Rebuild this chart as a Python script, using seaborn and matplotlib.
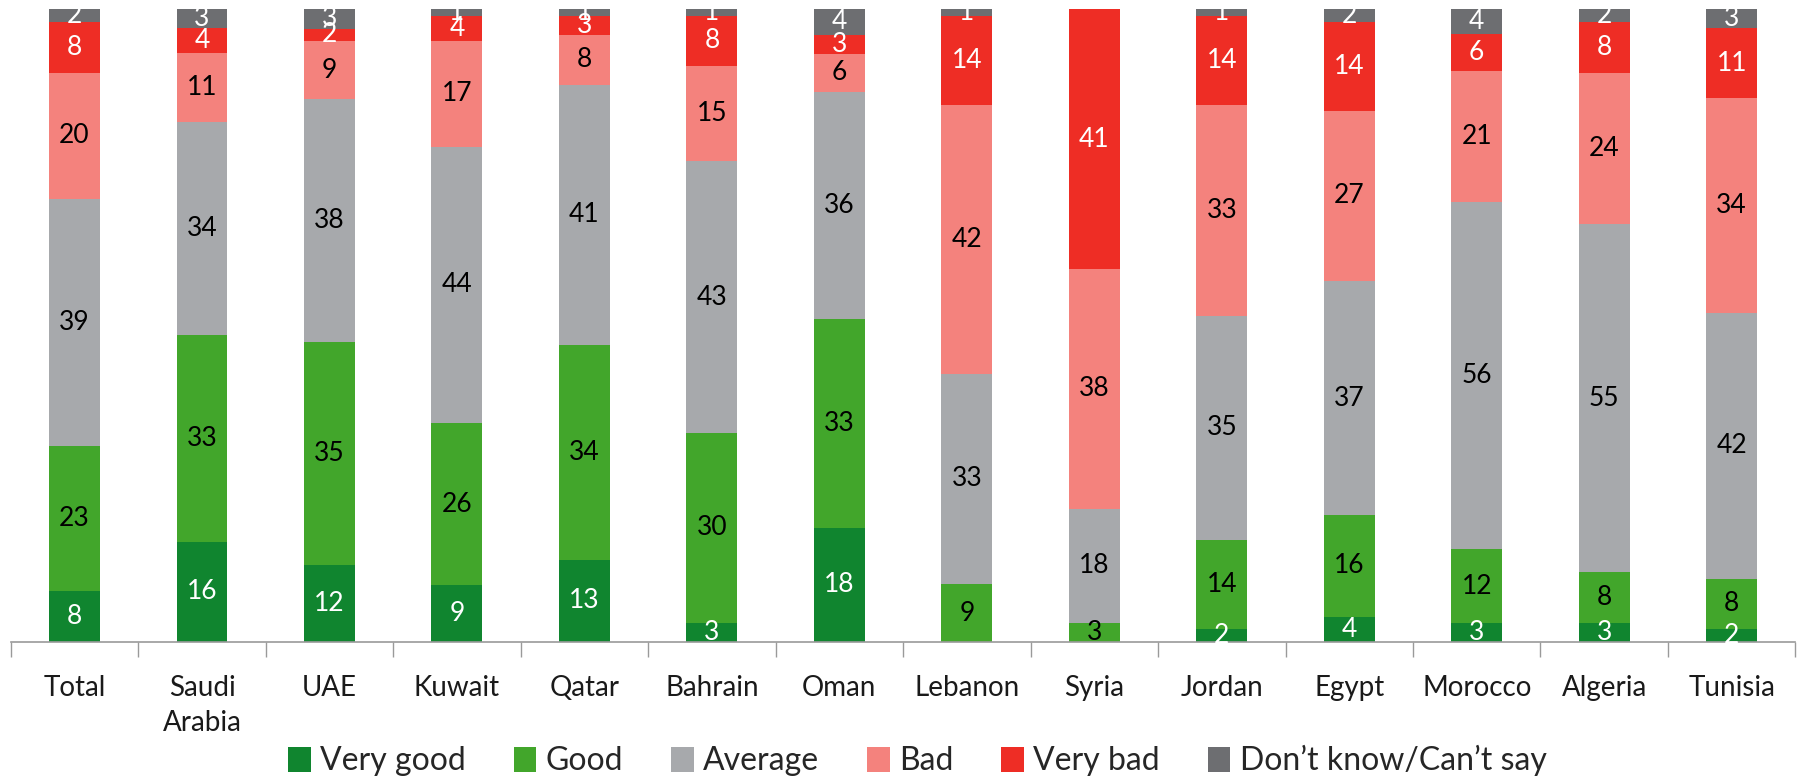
import numpy as np
import pandas as pd
import matplotlib
matplotlib.use("Agg")
import matplotlib.pyplot as plt
from matplotlib.patches import Patch
import seaborn as sns

# Survey responses by country (percent)
countries = ["Total", "Saudi\nArabia", "UAE", "Kuwait", "Qatar", "Bahrain", "Oman",
             "Lebanon", "Syria", "Jordan", "Egypt", "Morocco", "Algeria", "Tunisia"]
very_good = [8, 16, 12, 9, 13, 3, 18, 0, 0, 2, 4, 3, 3, 2]
good      = [23, 33, 35, 26, 34, 30, 33, 9, 3, 14, 16, 12, 8, 8]
average   = [39, 34, 38, 44, 41, 43, 36, 33, 18, 35, 37, 56, 55, 42]
bad       = [20, 11, 9, 17, 8, 15, 6, 42, 38, 33, 27, 21, 24, 34]
very_bad  = [8, 4, 2, 4, 3, 8, 3, 14, 41, 14, 14, 6, 8, 11]
dont_know = [2, 3, 3, 1, 1, 1, 4, 1, 0, 1, 2, 4, 2, 3]

series_names = ["Very good", "Good", "Average", "Bad", "Very bad", "Don\u2019t know/Can\u2019t say"]
series_vals = [very_good, good, average, bad, very_bad, dont_know]
colors = ["#10852F", "#42A62B", "#A7A9AC", "#F4827D", "#EE2D25", "#6D6E71"]
label_colors = ["white", "black", "black", "black", "white", "white"]

sns.set_theme(style="white")
plt.rcParams["font.family"] = ["Lato", "DejaVu Sans"]

fig = plt.figure(figsize=(17.99, 7.78), dpi=100)
ax = fig.add_axes([0.006, 0.175, 0.992, 0.813])

vals = np.array(series_vals, dtype=float)
# 100% stacked: each column is scaled by its own total
share = vals / vals.sum(axis=0) * 100
cum = np.cumsum(share, axis=0)
bottoms = cum - share

# Stacked columns: draw cumulative totals from the top layer down
for i in range(len(series_names) - 1, -1, -1):
    df = pd.DataFrame({"country": countries, "value": cum[i]})
    sns.barplot(data=df, x="country", y="value", color=colors[i], saturation=1,
                width=0.4, ax=ax, linewidth=0, errorbar=None)

# Segment value labels
for i in range(len(series_names)):
    for j in range(len(countries)):
        v = vals[i, j]
        if v <= 0:
            continue
        ax.text(j, bottoms[i, j] + share[i, j] / 2, f"{int(v)}", ha="center", va="center",
                fontsize=19, color=label_colors[i], clip_on=False)

ax.set_ylim(0, 100)
ax.set_xlim(-0.5, len(countries) - 0.5)
ax.set_xlabel("")
ax.set_ylabel("")
ax.set_yticks([])
for s in ["top", "right", "left"]:
    ax.spines[s].set_visible(False)
ax.spines["bottom"].set_color("#9A9A9A")
ax.spines["bottom"].set_linewidth(1.2)

ax.set_xticks(range(len(countries)))
ax.set_xticklabels(countries, fontsize=20, color="#1a1a1a", linespacing=1.4)
ax.tick_params(axis="x", which="major", length=0, pad=24)
ax.set_xticks(np.arange(-0.5, len(countries), 1.0), minor=True)
ax.tick_params(axis="x", which="minor", length=11, width=1.0, color="#9A9A9A",
               direction="out", bottom=True)

handles = [Patch(facecolor=c, edgecolor="none") for c in colors]
fig.legend(handles, series_names, loc="lower center", bbox_to_anchor=(0.51, -0.035),
           ncol=6, frameon=False, fontsize=23, handlelength=0.7, handleheight=0.8,
           handletextpad=0.3, columnspacing=1.5)

fig.savefig("out.png", dpi=100)
